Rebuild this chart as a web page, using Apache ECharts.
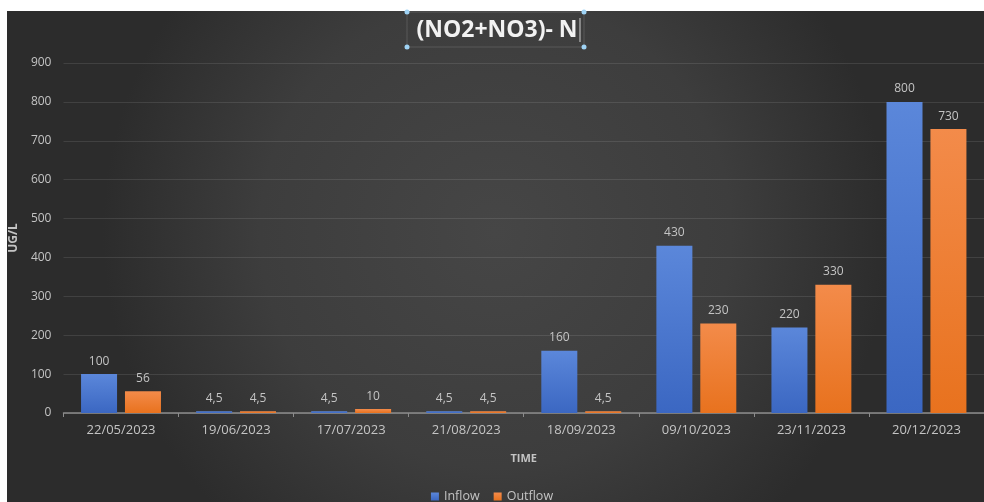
<!DOCTYPE html>
<html>
<head>
<meta charset="utf-8">
<script src="https://cdn.jsdelivr.net/npm/echarts@6/dist/echarts.min.js"></script>
<style>
  html, body { margin: 0; padding: 0; background: #fff; }
  #chart { width: 984px; height: 502px; }
</style>
</head>
<body>
<div id="chart"></div>
<script>
// sampling dates
var dates = ['22/05/2023', '19/06/2023', '17/07/2023', '21/08/2023', '18/09/2023', '09/10/2023', '23/11/2023', '20/12/2023']
// (NO2+NO3)- N, ug/L
var inflow = [100, 4.5, 4.5, 4.5, 160, 430, 220, 800]
var outflow = [56, 4.5, 10, 4.5, 4.5, 230, 330, 730]
var yTicks = { min: 0, max: 900, interval: 100 }

var labelColor = '#c4c4c4'

function barColor(top, bottom) {
  return new echarts.graphic.LinearGradient(0, 0, 0, 1, [
    { offset: 0, color: top },
    { offset: 1, color: bottom }
  ])
}

function commaLabel(p) {
  return String(p.value).replace('.', ',')
}

var myChart = echarts.init(document.getElementById('chart'))
var option = {
  backgroundColor: '#ffffff',
  graphic: [
    {
      type: 'rect',
      z: -10,
      silent: true,
      shape: { x: 7, y: 11, width: 977, height: 491 },
      style: {
        fill: new echarts.graphic.RadialGradient(0.5, 0.45, 0.8, [
          { offset: 0, color: '#464646' },
          { offset: 0.6, color: '#3d3d3d' },
          { offset: 1, color: '#2c2c2c' }
        ])
      }
    },
    // selection frame around the title
    {
      type: 'rect',
      silent: true,
      shape: { x: 407, y: 12, width: 177, height: 35 },
      style: { fill: null, stroke: '#585858', lineWidth: 1 }
    },
    { type: 'circle', silent: true, shape: { cx: 407, cy: 12, r: 2.5 }, style: { fill: '#9fd3f5' } },
    { type: 'circle', silent: true, shape: { cx: 584, cy: 12, r: 2.5 }, style: { fill: '#9fd3f5' } },
    { type: 'circle', silent: true, shape: { cx: 407, cy: 47, r: 2.5 }, style: { fill: '#9fd3f5' } },
    { type: 'circle', silent: true, shape: { cx: 584, cy: 47, r: 2.5 }, style: { fill: '#9fd3f5' } },
    {
      type: 'line',
      silent: true,
      shape: { x1: 580, y1: 18, x2: 580, y2: 42 },
      style: { stroke: '#d0d0d0', lineWidth: 1 }
    }
  ],
  title: {
    text: '(NO2+NO3)- N',
    left: 492,
    top: 14,
    textAlign: 'center',
    textStyle: {
      color: '#f2f2f2',
      fontFamily: 'Open Sans',
      fontWeight: 'bold',
      fontSize: 23
    }
  },
  legend: {
    data: ['Inflow', 'Outflow'],
    left: 'center',
    top: 485,
    icon: 'rect',
    itemWidth: 8,
    itemHeight: 8,
    itemGap: 14,
    textStyle: { color: labelColor, fontFamily: 'Open Sans', fontSize: 12.5 }
  },
  grid: {
    left: 62,
    top: 63,
    width: 926,
    bottom: 89
  },
  xAxis: {
    type: 'category',
    data: dates,
    name: 'TIME',
    nameLocation: 'middle',
    nameGap: 40,
    nameTextStyle: { color: labelColor, fontWeight: 'bold', fontSize: 11, fontFamily: 'Open Sans' },
    axisLine: { lineStyle: { color: '#8c8c8c', width: 1.5 } },
    axisTick: { show: true, length: 4, lineStyle: { color: '#8c8c8c' } },
    axisLabel: { color: labelColor, fontSize: 13, margin: 11, fontFamily: 'Open Sans' }
  },
  yAxis: {
    type: 'value',
    min: yTicks.min,
    max: yTicks.max,
    interval: yTicks.interval,
    name: 'UG/L',
    nameLocation: 'middle',
    nameGap: 39,
    nameTextStyle: { color: labelColor, fontWeight: 'bold', fontSize: 12, fontFamily: 'Open Sans' },
    axisLine: { show: false },
    axisTick: { show: false },
    axisLabel: { color: labelColor, fontSize: 12, margin: 12, fontFamily: 'Open Sans' },
    splitLine: { lineStyle: { color: 'rgba(255,255,255,0.1)', width: 1 } }
  },
  series: [
    {
      name: 'Inflow',
      type: 'bar',
      data: inflow,
      barWidth: 36,
      barGap: '22%',
      itemStyle: { color: barColor('#5b87da', '#3b67c2') },
      label: {
        show: true,
        position: 'top',
        distance: 7,
        color: labelColor,
        fontSize: 12,
        fontFamily: 'Open Sans',
        formatter: commaLabel
      }
    },
    {
      name: 'Outflow',
      type: 'bar',
      data: outflow,
      barWidth: 36,
      itemStyle: { color: barColor('#f38b4a', '#e8721e') },
      label: {
        show: true,
        position: 'top',
        distance: 7,
        color: labelColor,
        fontSize: 12,
        fontFamily: 'Open Sans',
        formatter: commaLabel
      }
    }
  ]
}
myChart.setOption(option)
</script>
</body>
</html>
